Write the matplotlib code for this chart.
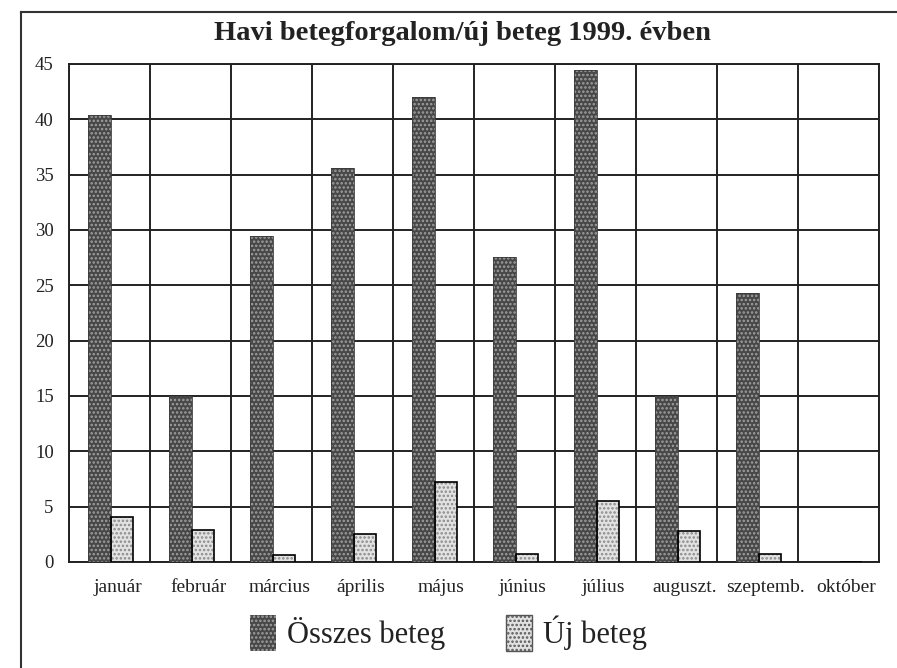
import numpy as np
import matplotlib
matplotlib.use("Agg")
import matplotlib.pyplot as plt
import matplotlib.transforms as mtransforms
from matplotlib.patches import Patch
from matplotlib.lines import Line2D

# havi adatok
months = ["január", "február", "március", "április", "május", "június",
          "július", "auguszt.", "szeptemb.", "október"]
osszes = [40.4, 15.0, 29.5, 35.6, 42.0, 27.6, 44.5, 15.0, 24.3, 0]
uj = [4.1, 2.9, 0.6, 2.5, 7.2, 0.7, 5.5, 2.8, 0.7, 0]
yticks = [0, 5, 10, 15, 20, 25, 30, 35, 40, 45]

plt.rcParams['font.family'] = ['Liberation Serif', 'DejaVu Serif']
plt.rcParams['hatch.linewidth'] = 1.2

fig = plt.figure(figsize=(8.97, 6.68), dpi=100)
ax = fig.add_axes([69 / 897, 1 - 562 / 668, 810 / 897, 498 / 668])

x = np.arange(len(months))
w = 0.275

# dark bars (Összes beteg)
ax.bar(x - 0.125, osszes, w, color="#474747", hatch="....", edgecolor="#a0a0a0",
       linewidth=0, zorder=3)
ax.bar(x - 0.125, osszes, w, fill=False, edgecolor="#3a3a3a", linewidth=0.6, zorder=4)
# light bars (Új beteg)
ax.bar(x + 0.155, uj, w, color="#e2e2e2", hatch="....", edgecolor="#8a8a8a",
       linewidth=0, zorder=3)
ax.bar(x + 0.155, uj, w, fill=False, edgecolor="black", linewidth=1.2, zorder=4)

ax.set_xlim(-0.5, len(months) - 0.5)
ax.set_ylim(0, 45)
ax.set_yticks(yticks)
ax.set_xticks(x)
ax.set_xticklabels(months)
ax.set_xticks(np.arange(len(months) + 1) - 0.5, minor=True)
ax.tick_params(axis="both", which="both", length=0, labelsize=13.5, colors="#222222")
ax.tick_params(axis="x", labelsize=14, pad=12)
ax.tick_params(axis="y", pad=11)
ax.grid(True, which="major", axis="y", color="#222222", linewidth=1.4, zorder=1)
ax.grid(True, which="minor", axis="x", color="#222222", linewidth=1.4, zorder=1)
for s in ax.spines.values():
    s.set_linewidth(1.4)
    s.set_color("#222222")

# labels sit a bit right of the category centre in the original
shift = mtransforms.ScaledTranslation(8 / 100, 0, fig.dpi_scale_trans)
for lbl in ax.get_xticklabels():
    lbl.set_transform(lbl.get_transform() + shift)

fig.text(0.515, 0.95, "Havi betegforgalom/új beteg 1999. évben", ha="center",
         va="center", fontsize=20.5, fontweight="bold", color="#222222")

handles = [Patch(facecolor="#474747", hatch="....", edgecolor="#a0a0a0", linewidth=0),
           Patch(facecolor="#e2e2e2", hatch="....", edgecolor="#555555", linewidth=1.0)]
fig.legend(handles, ["Összes beteg", "Új beteg"], loc="center",
           bbox_to_anchor=(0.5, 0.052), ncol=2, frameon=False, fontsize=22,
           handlelength=0.85, handleheight=1.45, handletextpad=0.35, columnspacing=2.0,
           labelcolor="#222222")

# page frame (left and top lines of the scanned box)
fig.add_artist(Line2D([21 / 897, 21 / 897], [0, 1 - 12 / 668], color="#333333", lw=1.5))
fig.add_artist(Line2D([21 / 897, 1], [1 - 12 / 668, 1 - 12 / 668], color="#333333", lw=1.5))

fig.savefig("out.png", dpi=100)
